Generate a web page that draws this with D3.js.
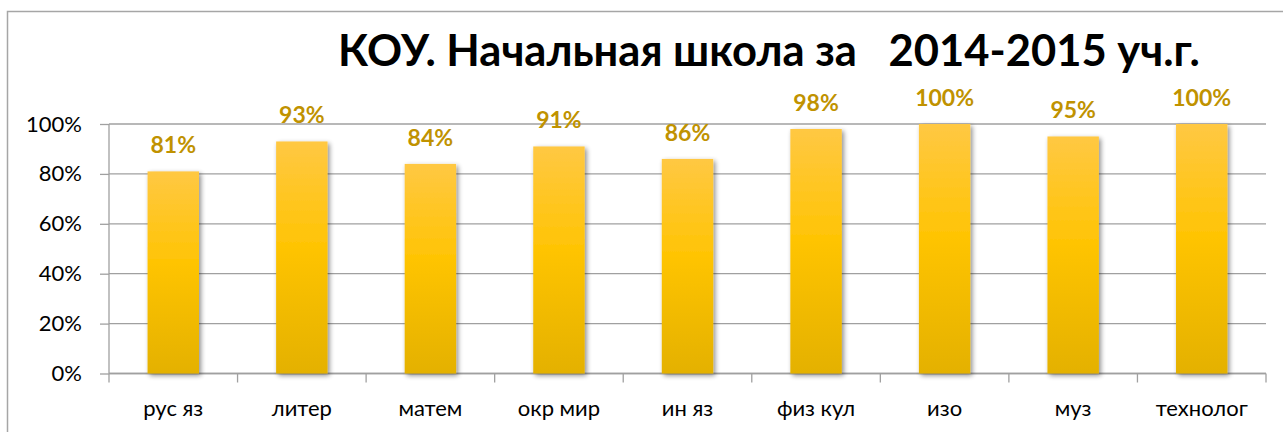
<!DOCTYPE html>
<html><head><meta charset="utf-8">
<script src="https://cdn.jsdelivr.net/npm/d3@7"></script>
<style>html,body{margin:0;padding:0;background:#fff;overflow:hidden}</style>
</head><body>
<script>
const categories = ["рус яз","литер","матем","окр мир","ин яз","физ кул","изо","муз","технолог"];
const values = [0.81,0.93,0.84,0.91,0.86,0.98,1.00,0.95,1.00];
const valueLabels = ["81%","93%","84%","91%","86%","98%","100%","95%","100%"];
const yTicks = [0,0.2,0.4,0.6,0.8,1.0];
const title = "КОУ. Начальная школа за\u00a0\u00a0\u00a02014-2015 уч.г.";

const W=1283,H=432;
const font = "Lato, 'Open Sans', sans-serif";
const svg=d3.select("body").append("svg").attr("width",W).attr("height",H);
const defs=svg.append("defs");
const g=defs.append("linearGradient").attr("id","bg").attr("x1",0).attr("y1",0).attr("x2",0).attr("y2",1);
g.append("stop").attr("offset","0%").attr("stop-color","#FFC843");
g.append("stop").attr("offset","45%").attr("stop-color","#FFC404");
g.append("stop").attr("offset","100%").attr("stop-color","#E4B100");
const f=defs.append("filter").attr("id","sh").attr("x","-20%").attr("y","-5%").attr("width","150%").attr("height","115%");
f.append("feGaussianBlur").attr("in","SourceAlpha").attr("stdDeviation",2.5).attr("result","b");
f.append("feOffset").attr("in","b").attr("dx",2).attr("dy",2).attr("result","o");
f.append("feComponentTransfer").attr("in","o").attr("result","o2").append("feFuncA").attr("type","linear").attr("slope",0.45);
const fm=f.append("feMerge"); fm.append("feMergeNode").attr("in","o2"); fm.append("feMergeNode").attr("in","SourceGraphic");

// border
svg.append("rect").attr("x",7.5).attr("y",11.5).attr("width",W+10).attr("height",H+10)
  .attr("fill","none").attr("stroke","#A6A6A6").attr("stroke-width",1.5);

const x0=109,x1=1266,yTop=124,yBot=373.5;
const x=d3.scaleBand().domain(categories).range([x0,x1]).paddingInner(0.6).paddingOuter(0.3);
const y=d3.scaleLinear().domain([0,1]).range([yBot,yTop]);

// gridlines
svg.append("g").selectAll("line").data(yTicks).join("line")
  .attr("x1",x0).attr("x2",x1).attr("y1",d=>y(d)).attr("y2",d=>y(d))
  .attr("stroke","#A0A0A0").attr("stroke-width",1.3);

// y axis
const ya=svg.append("g").attr("transform",`translate(${x0},0)`)
  .call(d3.axisLeft(y).tickValues(yTicks).tickFormat(d3.format(".0%")).tickSize(9).tickPadding(18));
ya.select(".domain").attr("stroke","#A0A0A0").attr("stroke-width",1.3).attr("d",`M0,${yTop}V${yBot}`);
ya.selectAll(".tick line").attr("stroke","#A0A0A0").attr("stroke-width",1.3);
ya.selectAll("text").attr("font-family",font).attr("font-size",22).attr("fill","#000");

// x axis
const step=(x1-x0)/categories.length;
const xa=svg.append("g").attr("transform",`translate(0,${yBot})`)
  .call(d3.axisBottom(x).tickSize(0).tickPadding(27));
xa.select(".domain").attr("stroke","#A0A0A0").attr("stroke-width",1.3).attr("d",`M${x0},0H${x1}`);
xa.selectAll("text").attr("font-family",font).attr("font-size",22).attr("fill","#000");
svg.append("g").selectAll("line").data(d3.range(categories.length+1)).join("line")
  .attr("x1",i=>x0+i*step).attr("x2",i=>x0+i*step).attr("y1",yBot).attr("y2",yBot+9)
  .attr("stroke","#A0A0A0").attr("stroke-width",1.3);

// bars
svg.append("g").selectAll("rect").data(values).join("rect")
  .attr("x",(d,i)=>x(categories[i])).attr("width",x.bandwidth())
  .attr("y",d=>y(d)).attr("height",d=>yBot-y(d))
  .attr("fill","url(#bg)").attr("filter","url(#sh)");

// value labels
svg.append("g").selectAll("text").data(values).join("text")
  .attr("x",(d,i)=>x(categories[i])+x.bandwidth()/2).attr("y",d=>y(d)-18)
  .attr("text-anchor","middle").attr("font-family",font).attr("font-weight","bold")
  .attr("font-size",23).attr("fill","#C09200").text((d,i)=>valueLabels[i]);

// title
const t=svg.append("text").attr("x",338).attr("y",66).attr("font-family",font)
  .attr("font-weight","bold").attr("font-size",40).attr("fill","#000").text(title);
const len=t.node().getComputedTextLength();
t.attr("font-size",40*862/len);
</script>
</body></html>
